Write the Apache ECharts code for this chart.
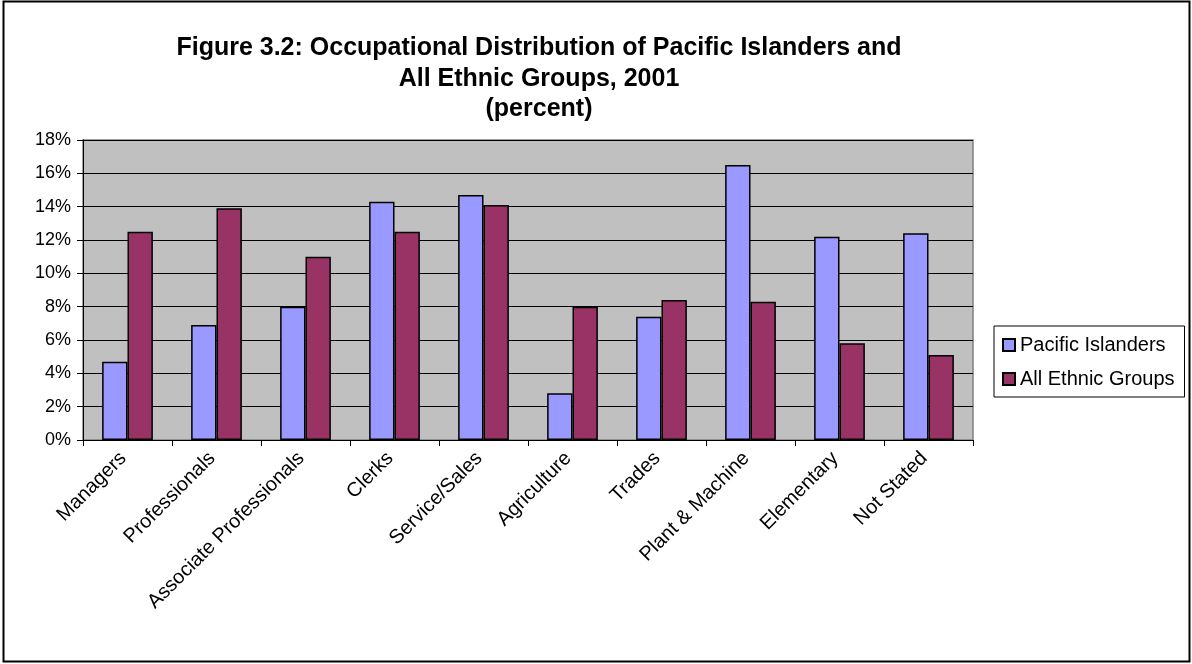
<!DOCTYPE html>
<html>
<head>
<meta charset="utf-8">
<script src="https://cdn.jsdelivr.net/npm/echarts@6/dist/echarts.min.js"></script>
<style>
  html, body { margin: 0; padding: 0; background: #fff; }
  #chart { width: 1192px; height: 664px; }
</style>
</head>
<body>
<div id="chart"></div>
<script>
// Occupation groups along the category axis
const categories = [
  'Managers', 'Professionals', 'Associate Professionals', 'Clerks', 'Service/Sales',
  'Agriculture', 'Trades', 'Plant & Machine', 'Elementary', 'Not Stated'
];
// Share of each group's workforce, percent
const pacificIslanders = [4.7, 6.9, 8.0, 14.3, 14.7, 2.8, 7.4, 16.5, 12.2, 12.4];
const allEthnicGroups  = [12.5, 13.9, 11.0, 12.5, 14.1, 8.0, 8.4, 8.3, 5.8, 5.1];
// Value axis ticks
const yTicks = [0, 2, 4, 6, 8, 10, 12, 14, 16, 18];

const font = 'Arial, "Liberation Sans", sans-serif';
const chart = echarts.init(document.getElementById('chart'), null, { renderer: 'canvas' });

chart.setOption({
  backgroundColor: '#ffffff',
  animation: false,
  title: {
    text: 'Figure 3.2: Occupational Distribution of Pacific Islanders and\nAll Ethnic Groups, 2001\n(percent)',
    left: 534,
    top: 28,
    textAlign: 'center',
    textStyle: { fontFamily: font, fontSize: 25, fontWeight: 'bold', color: '#000', lineHeight: 30.5 }
  },
  graphic: [{
    type: 'rect',
    shape: { x: 3.5, y: 1.5, width: 1186, height: 660 },
    style: { fill: 'none', stroke: '#000', lineWidth: 2 },
    silent: true
  }],
  legend: {
    orient: 'vertical',
    left: 994,
    top: 326,
    itemWidth: 12,
    itemHeight: 12,
    itemGap: 14,
    padding: [9, 10, 8, 8],
    borderColor: '#000',
    borderWidth: 1,
    backgroundColor: '#fff',
    icon: 'rect',
    textStyle: { fontFamily: font, fontSize: 20, color: '#000' },
    data: ['Pacific Islanders', 'All Ethnic Groups']
  },
  grid: {
    left: 83, right: 219, top: 140, bottom: 224,
    show: true,
    backgroundColor: '#c0c0c0',
    borderColor: '#808080',
    borderWidth: 1.5
  },
  xAxis: {
    type: 'category',
    data: categories,
    axisLine: { lineStyle: { color: '#000', width: 1 } },
    axisTick: { show: true, alignWithLabel: false, length: 6, lineStyle: { color: '#000' } },
    axisLabel: {
      rotate: 45, interval: 0, margin: 11,
      padding: [0, 6, 0, 0],
      fontFamily: font, fontSize: 20, color: '#000'
    }
  },
  yAxis: {
    type: 'value',
    min: yTicks[0],
    max: yTicks[yTicks.length - 1],
    interval: yTicks[1] - yTicks[0],
    axisLine: { show: true, lineStyle: { color: '#000' } },
    axisTick: { show: true, length: 6, lineStyle: { color: '#000' } },
    splitLine: { show: true, lineStyle: { color: '#000', width: 1 } },
    axisLabel: { formatter: '{value}%', fontFamily: font, fontSize: 18, color: '#000', margin: 12 }
  },
  series: [
    {
      name: 'Pacific Islanders',
      type: 'bar',
      data: pacificIslanders,
      barWidth: '28.5%',
      barGap: '0%',
      itemStyle: { color: '#9999ff', borderColor: '#000', borderWidth: 1.5 }
    },
    {
      name: 'All Ethnic Groups',
      type: 'bar',
      data: allEthnicGroups,
      barWidth: '28.5%',
      barGap: '0%',
      itemStyle: { color: '#993366', borderColor: '#000', borderWidth: 1.5 }
    }
  ]
});
</script>
</body>
</html>
